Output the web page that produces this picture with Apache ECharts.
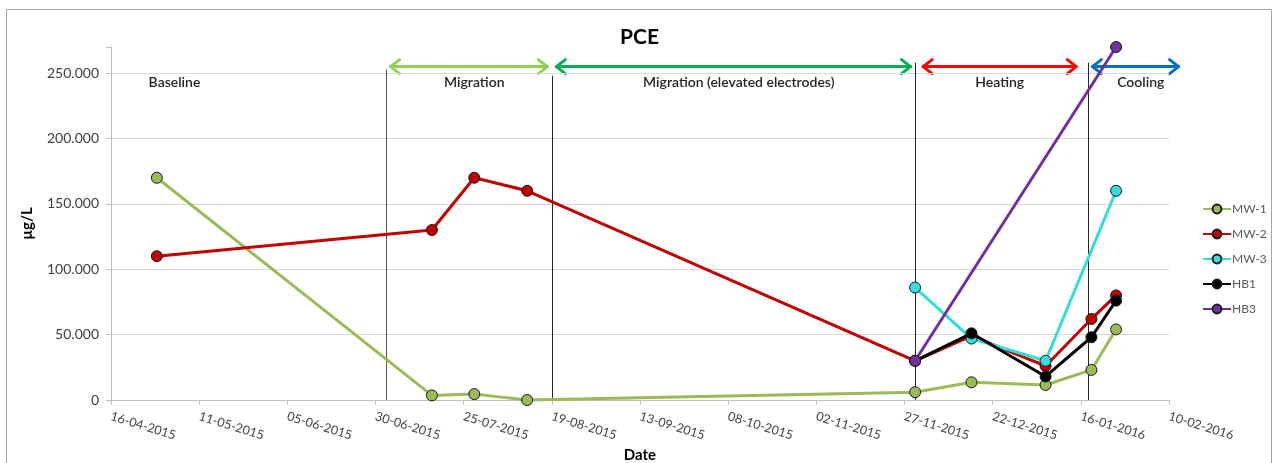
<!DOCTYPE html>
<html style="height: 100%">
<head>
<meta charset="utf-8">
<title>PCE</title>
<script src="https://cdn.jsdelivr.net/npm/echarts@6.0.0/dist/echarts.min.js"></script>
</head>
<body style="height: 100%; margin: 0; background: #fff">
<div id="container" style="width: 1279px; height: 463px"></div>
<script type="text/javascript">
//------ data ------
var startDate = '16-04-2015';   // x axis min
var endDate = '10-02-2016';     // x axis max
var tickDays = 25;

var sampleDates = ['29-04-2015', '16-07-2015', '28-07-2015', '12-08-2015', '30-11-2015', '16-12-2015', '06-01-2016', '19-01-2016', '26-01-2016'];
var mw1 = [170000, 3500, 4500, 0, 6000, 13500, 11500, 23000, 54000];
var mw2 = [110000, 130000, 170000, 160000, 30000, 49000, 26000, 62000, 80000];
var mw3 = [null, null, null, null, 86000, 47000, 30000, null, 160000];
var hb1 = [null, null, null, null, 30000, 51000, 18000, 48000, 76000];
var hb3 = [null, null, null, null, 30000, null, null, null, 270000];

var seriesNames = ['MW-1', 'MW-2', 'MW-3', 'HB1', 'HB3'];

// phase boundaries (vertical lines) and how high they reach
var boundaryDates = ['03-07-2015', '19-08-2015', '30-11-2015', '18-01-2016'];
var boundaryTops = [253000, 248000, 258000, 258000];

// phase arrows
var arrowFrom = ['04-07-2015', '20-08-2015', '02-12-2015', '19-01-2016'];
var arrowTo = ['18-08-2015', '29-11-2015', '15-01-2016', '13-02-2016'];
var arrowLevel = 255000;

// phase labels
var phaseLabels = ['Baseline', 'Migration', 'Migration (elevated electrodes)', 'Heating', 'Cooling'];
var phaseLabelDates = ['04-05-2015', '28-07-2015', '11-10-2015', '24-12-2015', '02-02-2016'];
var phaseLabelLevel = 243000;
//------------------

var colors = ['#9BBB59', '#C00000', '#33DDDD', '#000000', '#7030A0'];
var arrowColors = ['#92D050', '#00B050', '#FF0000', '#0070C0'];
var FONT = 'Lato';

function parseDate(s) {
	var p = s.split('-');
	return Date.UTC(+p[2], +p[1] - 1, +p[0]);
}
var t0 = parseDate(startDate);
function dayOf(s) {
	return Math.round((parseDate(s) - t0) / 86400000);
}
function fmtDay(d) {
	var dt = new Date(t0 + d * 86400000);
	var dd = ('0' + dt.getUTCDate()).slice(-2);
	var mm = ('0' + (dt.getUTCMonth() + 1)).slice(-2);
	return dd + '-' + mm + '-' + dt.getUTCFullYear();
}

function pairs(vals) {
	var arr = [];
	for (var i = 0; i < sampleDates.length; i++) {
		arr.push([dayOf(sampleDates[i]), vals[i]]);
	}
	return arr;
}

var allValues = [mw1, mw2, mw3, hb1, hb3];
var series = [];
for (var i = 0; i < seriesNames.length; i++) {
	series.push({
		name: seriesNames[i],
		type: 'line',
		data: pairs(allValues[i]),
		connectNulls: true,
		symbol: 'circle',
		symbolSize: 11,
		clip: false,
		lineStyle: { color: colors[i], width: 3 },
		itemStyle: { color: colors[i], borderColor: '#1a1a1a', borderWidth: 1 },
		z: 10 + i
	});
}

var markLines = [];
for (var i = 0; i < boundaryDates.length; i++) {
	var x = dayOf(boundaryDates[i]);
	markLines.push([
		{ coord: [x, 0], symbol: 'none', lineStyle: { color: i == 0 ? '#595959' : '#262626', width: 1, type: 'solid' } },
		{ coord: [x, boundaryTops[i]], symbol: 'none' }
	]);
}

var markPoints = [];
for (var i = 0; i < phaseLabels.length; i++) {
	markPoints.push({ name: phaseLabels[i], coord: [dayOf(phaseLabelDates[i]), phaseLabelLevel] });
}

series.push({
	name: 'phases',
	type: 'line',
	data: [],
	clip: false,
	silent: true,
	z: 5,
	markLine: {
		silent: true,
		animation: false,
		label: { show: false },
		data: markLines
	},
	markPoint: {
		silent: true,
		animation: false,
		symbol: 'circle',
		symbolSize: 1,
		itemStyle: { color: 'transparent' },
		label: {
			show: true, position: 'inside', formatter: '{b}',
			color: '#262626', fontFamily: FONT, fontSize: 14, fontWeight: 600
		},
		data: markPoints
	}
});

var borderRect = {
	id: 'border',
	type: 'rect',
	shape: { x: 6.5, y: 9.5, width: 1265, height: 470 },
	style: { fill: 'none', stroke: '#A6A6A6', lineWidth: 1 },
	silent: true
};

var dom = document.getElementById('container');
var myChart = echarts.init(dom, null, { renderer: 'canvas' });

var option = {
	animation: false,
	backgroundColor: '#fff',
	title: {
		text: 'PCE',
		left: 'center',
		top: 22,
		textStyle: { fontFamily: FONT, fontSize: 21, fontWeight: 'bold', color: '#000' }
	},
	graphic: [borderRect],
	legend: {
		data: seriesNames,
		orient: 'vertical',
		left: 1197,
		top: 198,
		itemWidth: 28,
		itemHeight: 11,
		itemGap: 13,
		textStyle: { fontFamily: FONT, fontSize: 12, color: '#595959', padding: [0, 0, 0, -4] }
	},
	grid: { left: 111, right: 110, top: 47, bottom: 63, containLabel: false, outerBoundsMode: 'none' },
	xAxis: {
		type: 'value',
		min: 0,
		max: dayOf(endDate),
		interval: tickDays,
		name: 'Date',
		nameLocation: 'middle',
		nameGap: 47,
		nameTextStyle: { fontFamily: FONT, fontSize: 15, fontWeight: 'bold', color: '#000' },
		axisLine: { show: true, lineStyle: { color: '#BFBFBF' } },
		axisTick: { show: true, length: 5, lineStyle: { color: '#BFBFBF' } },
		splitLine: { show: false },
		axisLabel: {
			rotate: -17,
			margin: 16,
			fontFamily: FONT,
			fontSize: 12.5,
			color: '#404040',
			formatter: function (v) { return fmtDay(v); }
		}
	},
	yAxis: {
		type: 'value',
		min: 0,
		max: 270000,
		interval: 50000,
		name: 'µg/L',
		nameLocation: 'middle',
		nameGap: 76,
		nameTextStyle: { fontFamily: FONT, fontSize: 15, fontWeight: 'bold', color: '#000' },
		axisLine: { show: true, lineStyle: { color: '#BFBFBF' } },
		axisTick: { show: true, length: 5, lineStyle: { color: '#BFBFBF' } },
		splitLine: { show: true, showMaxLine: false, lineStyle: { color: '#D9D9D9', width: 1 } },
		axisLabel: {
			margin: 12,
			fontFamily: FONT,
			fontSize: 14,
			color: '#404040',
			formatter: function (v) {
				if (v % 50000 !== 0) return '';
				return v === 0 ? '0' : (v / 1000) + '.000';
			}
		}
	},
	series: series
};

myChart.setOption(option, true);

// double-headed phase arrows, placed through the axis scales
var graphics = [borderRect];
for (var i = 0; i < arrowFrom.length; i++) {
	var a = myChart.convertToPixel({ gridIndex: 0 }, [dayOf(arrowFrom[i]), arrowLevel]);
	var b = myChart.convertToPixel({ gridIndex: 0 }, [dayOf(arrowTo[i]), arrowLevel]);
	var st = { stroke: arrowColors[i], lineWidth: 3, lineCap: 'round', lineJoin: 'round', fill: null };
	graphics.push({
		type: 'group',
		id: 'arrow' + i,
		silent: true,
		children: [
			{ type: 'line', shape: { x1: a[0] + 1, y1: a[1], x2: b[0] - 1, y2: b[1] }, style: st },
			{ type: 'polyline', shape: { points: [[a[0] + 10, a[1] - 7], [a[0] + 1, a[1]], [a[0] + 10, a[1] + 7]] }, style: st },
			{ type: 'polyline', shape: { points: [[b[0] - 10, b[1] - 7], [b[0] - 1, b[1]], [b[0] - 10, b[1] + 7]] }, style: st }
		]
	});
}
myChart.setOption({ graphic: graphics });
</script>
</body>
</html>
